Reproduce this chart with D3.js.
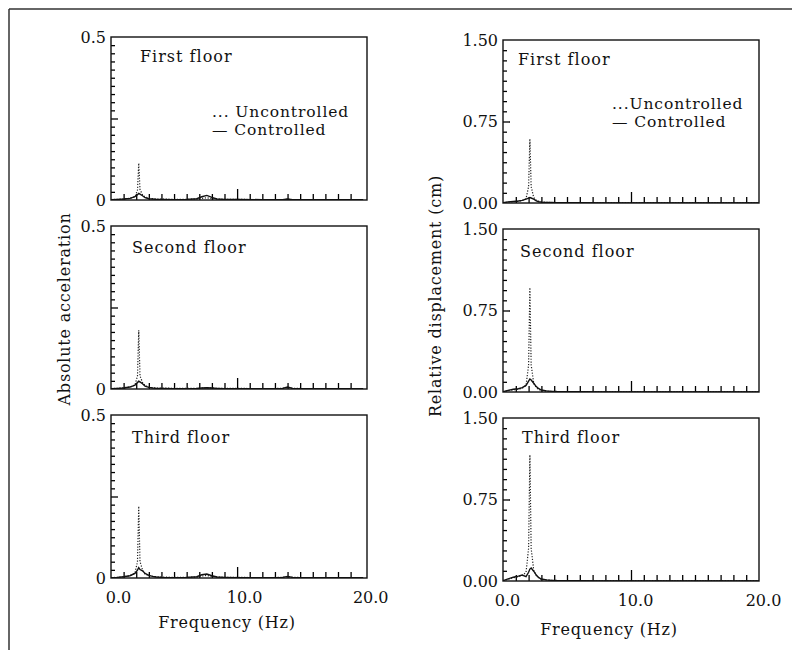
<!DOCTYPE html>
<html>
<head>
<meta charset="utf-8">
<script src="https://cdn.jsdelivr.net/npm/d3@7"></script>
<style>
    body { margin: 0; background: #fff; }
    svg { display: block; font-family: "DejaVu Serif", serif; }
</style>
</head>
<body>
<svg id="chart" width="792" height="650"></svg>
<script>
// ------------------------------------------- data -------------------------------------------

const floors = ["First floor", "Second floor", "Third floor"];

// absolute acceleration spectra
const freqAcc = [0, 0.5, 1.0, 1.5, 1.9, 2.1, 2.2, 2.3, 2.5, 2.7, 3.0, 3.3, 3.6, 4.0, 5.0, 6.0, 6.8, 7.2, 7.6, 8.0, 8.4, 9.0, 10.0, 12.0, 13.6, 14.0, 14.4, 16.0, 18.0, 20.0];
const accUnc1 = [0.001, 0.002, 0.003, 0.005, 0.010, 0.030, 0.113, 0.032, 0.016, 0.009, 0.006, 0.004, 0.003, 0.003, 0.002, 0.002, 0.003, 0.005, 0.007, 0.004, 0.003, 0.002, 0.002, 0.001, 0.001, 0.002, 0.001, 0.001, 0.001, 0.001];
const accCon1 = [0.001, 0.002, 0.003, 0.005, 0.010, 0.016, 0.020, 0.018, 0.013, 0.007, 0.004, 0.003, 0.002, 0.002, 0.001, 0.002, 0.004, 0.010, 0.014, 0.008, 0.003, 0.002, 0.002, 0.001, 0.001, 0.003, 0.001, 0.001, 0.001, 0.001];
const accUnc2 = [0.001, 0.002, 0.004, 0.006, 0.012, 0.040, 0.180, 0.040, 0.020, 0.010, 0.006, 0.004, 0.003, 0.003, 0.002, 0.002, 0.002, 0.003, 0.004, 0.003, 0.002, 0.002, 0.002, 0.001, 0.002, 0.004, 0.002, 0.001, 0.001, 0.001];
const accCon2 = [0.001, 0.002, 0.003, 0.006, 0.012, 0.020, 0.024, 0.022, 0.016, 0.009, 0.005, 0.003, 0.002, 0.002, 0.001, 0.001, 0.002, 0.003, 0.004, 0.003, 0.002, 0.001, 0.001, 0.001, 0.002, 0.006, 0.002, 0.001, 0.001, 0.001];
const accUnc3 = [0.001, 0.002, 0.004, 0.007, 0.015, 0.050, 0.220, 0.050, 0.025, 0.012, 0.007, 0.005, 0.004, 0.003, 0.002, 0.002, 0.003, 0.006, 0.008, 0.005, 0.003, 0.002, 0.002, 0.001, 0.002, 0.004, 0.002, 0.001, 0.001, 0.001];
const accCon3 = [0.001, 0.002, 0.004, 0.007, 0.014, 0.024, 0.032, 0.026, 0.022, 0.014, 0.008, 0.005, 0.003, 0.002, 0.001, 0.002, 0.004, 0.010, 0.012, 0.007, 0.003, 0.002, 0.001, 0.001, 0.002, 0.005, 0.002, 0.001, 0.001, 0.001];

// relative displacement spectra (cm)
const freqDisp = [0, 0.4, 0.8, 1.2, 1.5, 1.8, 2.0, 2.1, 2.2, 2.4, 2.6, 2.8, 3.0, 3.4, 3.8, 4.2, 5.0, 6.0, 8.0, 10.0, 12.0, 14.0, 16.0, 18.0, 20.0];
const dispUnc1 = [0.002, 0.008, 0.012, 0.016, 0.022, 0.040, 0.150, 0.590, 0.150, 0.050, 0.025, 0.015, 0.010, 0.006, 0.004, 0.003, 0.002, 0.002, 0.001, 0.001, 0.001, 0.001, 0.001, 0.001, 0.001];
const dispCon1 = [0.002, 0.010, 0.014, 0.018, 0.024, 0.035, 0.045, 0.050, 0.046, 0.035, 0.020, 0.012, 0.008, 0.005, 0.004, 0.003, 0.002, 0.002, 0.001, 0.001, 0.001, 0.001, 0.001, 0.001, 0.001];
const dispUnc2 = [0.002, 0.012, 0.020, 0.026, 0.035, 0.060, 0.250, 0.960, 0.250, 0.080, 0.040, 0.022, 0.014, 0.008, 0.005, 0.004, 0.003, 0.002, 0.001, 0.001, 0.001, 0.001, 0.001, 0.001, 0.001];
const dispCon2 = [0.002, 0.015, 0.025, 0.030, 0.040, 0.060, 0.100, 0.120, 0.110, 0.080, 0.050, 0.030, 0.018, 0.010, 0.006, 0.004, 0.003, 0.002, 0.001, 0.001, 0.001, 0.001, 0.001, 0.001, 0.001];
const dispUnc3 = [0.003, 0.015, 0.030, 0.040, 0.050, 0.080, 0.300, 1.160, 0.300, 0.100, 0.050, 0.028, 0.016, 0.009, 0.006, 0.004, 0.003, 0.002, 0.001, 0.001, 0.001, 0.001, 0.001, 0.001, 0.001];
const dispCon3 = [0.003, 0.020, 0.035, 0.045, 0.055, 0.040, 0.080, 0.110, 0.120, 0.090, 0.055, 0.030, 0.018, 0.010, 0.006, 0.004, 0.003, 0.002, 0.001, 0.001, 0.001, 0.001, 0.001, 0.001, 0.001];

// tick labels
const freqTicks = [0, 10, 20];
const freqTickText = ["0.0", "10.0", "20.0"];
const accTicks = [0, 0.5];
const accTickText = ["0", "0.5"];
const dispTicks = [0, 0.75, 1.5];
const dispTickText = ["0.00", "0.75", "1.50"];

// ------------------------------------------- layout -------------------------------------------

const svg = d3.select("#chart");
const panelH = 163;

// outer frame (top and left edges only, as in the scan)
svg.append("line").attr("x1", 9).attr("y1", 9).attr("x2", 792).attr("y2", 9)
    .attr("stroke", "#333").attr("stroke-width", 1.5);
svg.append("line").attr("x1", 9).attr("y1", 9).attr("x2", 9).attr("y2", 650)
    .attr("stroke", "#333").attr("stroke-width", 1.5);

const columns = [
    {
        x0: 111, x1: 367, tops: [37, 226, 415], xMax: 20.3, labelDx: 7,
        yMax: 0.5, yStep: 0.025, yMid: 0.25,
        yTicks: accTicks, yText: accTickText,
        freq: freqAcc, unc: [accUnc1, accUnc2, accUnc3], con: [accCon1, accCon2, accCon3],
        titleDx: [29, 21, 21], titleDy: [25, 27, 28],
        legend: { x: 212, y: 117, dots: "... " }
    },
    {
        x0: 503, x1: 759, tops: [40, 229, 418], xMax: 20, labelDx: 4,
        yMax: 1.5, yStep: 0.09375, yMid: 0.75,
        yTicks: dispTicks, yText: dispTickText,
        freq: freqDisp, unc: [dispUnc1, dispUnc2, dispUnc3], con: [dispCon1, dispCon2, dispCon3],
        titleDx: [15, 17, 19], titleDy: [25, 28, 25],
        legend: { x: 612, y: 109, dots: "..." }
    }
];

// ------------------------------------------- panels -------------------------------------------

let clipId = 0;

function drawPanel(col, row) {
    const top = col.tops[row];
    const w = col.x1 - col.x0;

    const x = d3.scaleLinear().domain([0, col.xMax]).range([0, w]);
    const y = d3.scaleLinear().domain([0, col.yMax]).range([panelH, 0]);

    const g = svg.append("g").attr("transform", `translate(${col.x0},${top})`);

    clipId++;
    g.append("clipPath").attr("id", "clip" + clipId)
        .append("rect").attr("width", w).attr("height", panelH);

    // inward minor ticks on the frequency axis, taller one at 10 Hz
    const xMinor = d3.axisBottom(x).tickValues(d3.range(1, 20, 1)).tickSize(-6).tickFormat("");
    const gx = g.append("g").attr("transform", `translate(0,${panelH})`).call(xMinor);
    gx.selectAll(".tick line")
        .attr("y2", d => d === 10 ? -11 : -6)
        .attr("stroke", "#000").attr("stroke-width", 1.3);
    gx.select(".domain").remove();

    // inward minor ticks on the value axis
    const yMinor = d3.axisLeft(y).tickValues(d3.range(col.yStep, col.yMax - 1e-6, col.yStep)).tickSize(-4).tickFormat("");
    const gy = g.append("g").call(yMinor);
    gy.selectAll(".tick line")
        .attr("x2", d => Math.abs(d - col.yMid) < 1e-6 ? 7 : 4)
        .attr("stroke", "#000").attr("stroke-width", 1.3);
    gy.select(".domain").remove();

    // value labels
    const yLab = d3.axisLeft(y).tickValues(col.yTicks).tickSize(0).tickPadding(5)
        .tickFormat((d, i) => col.yText[i]);
    const gyl = g.append("g").call(yLab);
    gyl.select(".domain").remove();
    gyl.selectAll("text").attr("font-family", "DejaVu Serif").attr("font-size", 16).attr("fill", "#111");

    // frequency labels on the bottom row only
    if (row === 2) {
        const xLab = d3.axisBottom(x).tickValues(freqTicks).tickSize(0).tickPadding(14)
            .tickFormat((d, i) => freqTickText[i]);
        const gxl = g.append("g").attr("transform", `translate(0,${panelH})`).call(xLab);
        gxl.select(".domain").remove();
        gxl.selectAll("text").attr("font-family", "DejaVu Serif").attr("font-size", 16)
            .attr("fill", "#111").attr("dx", col.labelDx);
    }

    const line = d3.line()
        .x((d, i) => x(col.freq[i]))
        .y(d => y(d));

    const plot = g.append("g").attr("clip-path", `url(#clip${clipId})`);

    // uncontrolled - dotted
    plot.append("path")
        .datum(col.unc[row])
        .attr("d", line)
        .attr("fill", "none")
        .attr("stroke", "#222")
        .attr("stroke-width", 1.2)
        .attr("stroke-dasharray", "1.2,1.6");

    // controlled - solid
    plot.append("path")
        .datum(col.con[row])
        .attr("d", line)
        .attr("fill", "none")
        .attr("stroke", "#111")
        .attr("stroke-width", 1.4);

    // frame
    g.append("rect")
        .attr("width", w).attr("height", panelH)
        .attr("fill", "none").attr("stroke", "#111").attr("stroke-width", 1.4);

    // floor name
    g.append("text")
        .attr("x", col.titleDx[row]).attr("y", col.titleDy[row])
        .attr("font-size", 16).attr("letter-spacing", 1).attr("fill", "#111")
        .text(floors[row]);
}

columns.forEach(col => {
    floors.forEach((f, row) => drawPanel(col, row));

    // legend in the top panel
    const lg = svg.append("g").attr("font-size", 15.5).attr("letter-spacing", 0.9).attr("fill", "#111");
    lg.append("text").attr("x", col.legend.x).attr("y", col.legend.y)
        .text(col.legend.dots + "Uncontrolled");
    lg.append("text").attr("x", col.legend.x).attr("y", col.legend.y + 18)
        .text("— Controlled");
});

// axis titles
svg.append("text")
    .attr("transform", "translate(70,309) rotate(-90)")
    .attr("text-anchor", "middle").attr("font-size", 16).attr("letter-spacing", 0.8).attr("fill", "#111")
    .text("Absolute acceleration");

svg.append("text")
    .attr("transform", "translate(441,296) rotate(-90)")
    .attr("text-anchor", "middle").attr("font-size", 16).attr("letter-spacing", 0.8).attr("fill", "#111")
    .text("Relative displacement (cm)");

svg.append("text")
    .attr("x", 227).attr("y", 628)
    .attr("text-anchor", "middle").attr("font-size", 16).attr("letter-spacing", 0.8).attr("fill", "#111")
    .text("Frequency (Hz)");

svg.append("text")
    .attr("x", 609).attr("y", 635)
    .attr("text-anchor", "middle").attr("font-size", 16).attr("letter-spacing", 0.8).attr("fill", "#111")
    .text("Frequency (Hz)");
</script>
</body>
</html>
